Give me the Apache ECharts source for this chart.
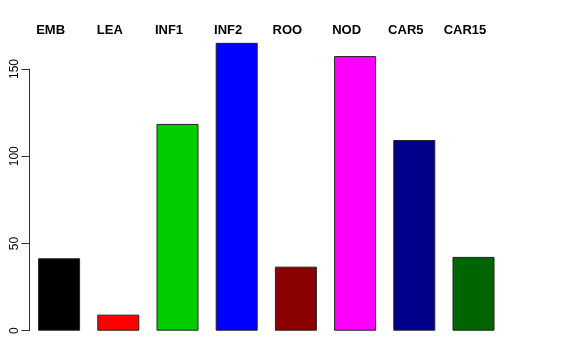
<!DOCTYPE html>
<html>
<head>
<meta charset="utf-8">
<script src="https://cdn.jsdelivr.net/npm/echarts@6/dist/echarts.min.js"></script>
<style>
html,body{margin:0;padding:0;background:#fff;}
#chart{width:576px;height:360px;}
</style>
</head>
<body>
<div id="chart"></div>
<script>
var categories = ['EMB', 'LEA', 'INF1', 'INF2', 'ROO', 'NOD', 'CAR5', 'CAR15'];
var values = [41.5, 9.2, 118.5, 165.0, 36.7, 157.4, 109.3, 42.3];
var colors = ['#000000', '#FF0000', '#00CD00', '#0000FF', '#8B0000', '#FF00FF', '#00008B', '#006400'];
var yTicks = [0, 50, 100, 150];

var chart = echarts.init(document.getElementById('chart'), null, {renderer: 'canvas'});
chart.setOption({
  animation: false,
  backgroundColor: '#ffffff',
  textStyle: {fontFamily: 'Liberation Sans, Arial, sans-serif'},
  grid: {left: 29.5, right: 72.9, top: 69, bottom: 29.3, containLabel: false},
  xAxis: [{
    type: 'category',
    data: categories,
    position: 'bottom',
    axisLine: {show: false},
    axisTick: {show: false},
    axisLabel: {show: false},
    splitLine: {show: false}
  }, {
    type: 'category',
    data: categories,
    position: 'top',
    axisLine: {show: false},
    axisTick: {show: false},
    splitLine: {show: false},
    axisLabel: {
      show: true,
      interval: 0,
      margin: 32,
      fontSize: 13,
      fontWeight: 'bold',
      color: '#000',
      fontFamily: 'Liberation Sans, Arial, sans-serif',
      padding: [0, 17, 0, 0]
    }
  }],
  yAxis: {
    type: 'value',
    min: yTicks[0],
    max: yTicks[yTicks.length - 1],
    interval: 50,
    axisLine: {show: true, lineStyle: {color: '#333', width: 1}},
    axisTick: {show: true, length: 8, inside: false, lineStyle: {color: '#333', width: 1}},
    axisLabel: {
      show: true,
      rotate: 90,
      margin: 9,
      fontSize: 12,
      color: '#000',
      fontFamily: 'Liberation Sans, Arial, sans-serif'
    },
    splitLine: {show: false}
  },
  series: [{
    type: 'bar',
    xAxisIndex: 0,
    clip: false,
    barWidth: 42,
    data: values.map(function (v, i) {
      return {value: v, itemStyle: {color: colors[i]}};
    }),
    itemStyle: {borderColor: '#222', borderWidth: 1}
  }]
});
</script>
</body>
</html>
